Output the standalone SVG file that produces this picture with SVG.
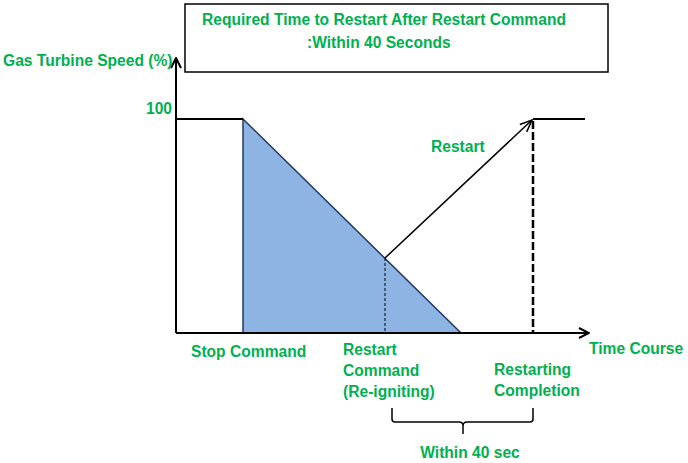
<svg xmlns="http://www.w3.org/2000/svg" width="688" height="463" viewBox="0 0 688 463">
<defs>
<style>
.t{font-family:"Liberation Sans",Arial,sans-serif;font-size:15.6px;font-weight:bold;fill:#00B050}
.ax{stroke:#000;stroke-width:2;fill:none}
</style>
<marker id="open" viewBox="0 0 12 12" refX="11" refY="6" markerWidth="12" markerHeight="12" markerUnits="userSpaceOnUse" orient="auto">
<path d="M1,1 L11,6 L1,11" fill="none" stroke="#000" stroke-width="2"/>
</marker>
<marker id="open2" viewBox="0 0 14 14" refX="13" refY="7" markerWidth="14" markerHeight="14" markerUnits="userSpaceOnUse" orient="auto">
<path d="M1,2 L13,7 L1,12" fill="none" stroke="#000" stroke-width="1.5"/>
</marker>
</defs>
<rect width="688" height="463" fill="#fff"/>
<g id="title">
<rect x="185" y="4" width="423" height="68" fill="#fff" stroke="#000" stroke-width="1.5"/>
<text class="t" x="384" y="25" text-anchor="middle">Required Time to Restart After Restart Command</text>
<text class="t" x="307" y="48">:Within 40 Seconds</text>
</g>
<g id="area">
<polygon points="243,119 243,333 461,333" fill="#8EB4E3" stroke="#1F3864" stroke-width="1.5"/>
</g>
<g id="connectors">
<line class="ax" x1="176" y1="333" x2="176" y2="58" marker-end="url(#open)"/>
<line class="ax" x1="176" y1="333" x2="589" y2="333" marker-end="url(#open)"/>
<line x1="176" y1="119" x2="243" y2="119" stroke="#000" stroke-width="2"/>
<line x1="533" y1="119" x2="585" y2="119" stroke="#000" stroke-width="2"/>
<line x1="385" y1="258" x2="385" y2="333" stroke="#000" stroke-width="1" stroke-dasharray="3,2"/>
<line x1="533" y1="121" x2="533" y2="333" stroke="#000" stroke-width="2.5" stroke-dasharray="8,3"/>
<line x1="385" y1="258" x2="532" y2="120" stroke="#000" stroke-width="1.5" marker-end="url(#open2)"/>
<path d="M392,408 L392,419 Q392,422 395,422 L459,422 Q463,422 463,426 L463,434 M463,426 Q463,422 467,422 L530,422 Q533,422 533,419 L533,408" fill="none" stroke="#000" stroke-width="1.5"/>
</g>
<g id="labels">
<text class="t" x="3" y="66">Gas Turbine Speed (%)</text>
<text class="t" x="146" y="114">100</text>
<text class="t" x="431" y="152">Restart</text>
<text class="t" x="191" y="357">Stop Command</text>
<text class="t" x="343" y="355">Restart</text>
<text class="t" x="343" y="376">Command</text>
<text class="t" x="343" y="397">(Re-igniting)</text>
<text class="t" x="494" y="375">Restarting</text>
<text class="t" x="494" y="396">Completion</text>
<text class="t" x="589" y="354">Time Course</text>
<text class="t" x="470" y="458" text-anchor="middle">Within 40 sec</text>
</g>
</svg>
